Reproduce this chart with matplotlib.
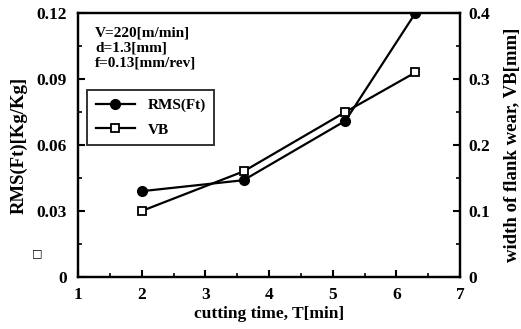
import matplotlib
matplotlib.use('Agg')
import matplotlib.pyplot as plt
from matplotlib.ticker import MultipleLocator

plt.rcParams['font.family'] = 'Liberation Serif'
plt.rcParams['font.weight'] = 'bold'

# data
time_min = [2, 3.6, 5.2, 6.3]
rms_ft = [0.039, 0.044, 0.071, 0.12]
vb_mm = [0.10, 0.16, 0.25, 0.31]

fig = plt.figure(figsize=(5.21, 3.29), dpi=100)
ax = fig.add_axes([78 / 521, 1 - 277 / 329, (460 - 78) / 521, (277 - 13) / 329])
ax2 = ax.twinx()

l1, = ax.plot(time_min, rms_ft, color='black', lw=1.6, marker='o', ms=7,
              label='RMS(Ft)')
l2, = ax2.plot(time_min, vb_mm, color='black', lw=1.6, marker='s', ms=6,
               mfc='white', mec='black', mew=1.3, label='VB')

ax.set_xlim(1, 7)
ax.set_ylim(0, 0.12)
ax2.set_ylim(0, 0.4)
ax.set_xticks([1, 2, 3, 4, 5, 6, 7])
ax.set_yticks([0, 0.03, 0.06, 0.09, 0.12])
ax.set_yticklabels(['0', '0.03', '0.06', '0.09', '0.12'])
ax2.set_yticks([0, 0.1, 0.2, 0.3, 0.4])
ax2.set_yticklabels(['0', '0.1', '0.2', '0.3', '0.4'])
ax.xaxis.set_minor_locator(MultipleLocator(0.5))
ax.yaxis.set_minor_locator(MultipleLocator(0.015))
ax2.yaxis.set_minor_locator(MultipleLocator(0.05))

for a in (ax, ax2):
    a.tick_params(direction='in', which='major', length=5, width=1.5, labelsize=12.5)
    a.tick_params(direction='in', which='minor', length=3, width=1.2)
    for s in a.spines.values():
        s.set_linewidth(1.6)
ax.tick_params(axis='x', pad=7)
ax.tick_params(axis='y', pad=8)
ax2.tick_params(axis='y', pad=6)

ax.set_xlabel('cutting time, T[min]', fontsize=12.5, fontweight='bold', labelpad=2)
ax.set_ylabel('RMS(Ft)[Kg/Kg]', fontsize=13.5, fontweight='bold', labelpad=6)
ax2.set_ylabel('width of flank wear, VB[mm]', fontsize=13.5, fontweight='bold', labelpad=10)

ax.text(0.045, 0.95, 'V=220[m/min]\nd=1.3[mm]\nf=0.13[mm/rev]', transform=ax.transAxes,
        fontsize=11, fontweight='bold', va='top', ha='left', linespacing=1.2)

leg = ax.legend(handles=[l1, l2], loc='upper left', bbox_to_anchor=(0.004, 0.737),
                fontsize=11, frameon=True, fancybox=False, edgecolor='black',
                handlelength=2.6, borderpad=0.55, labelspacing=0.7)
leg.get_frame().set_linewidth(1.4)

# stray square mark on the left
fig.text(37 / 521, 1 - 253 / 329, '\u25a1', fontsize=8, ha='center', va='center',
         family='DejaVu Sans', fontweight='bold')

fig.savefig('out.png', dpi=100)
